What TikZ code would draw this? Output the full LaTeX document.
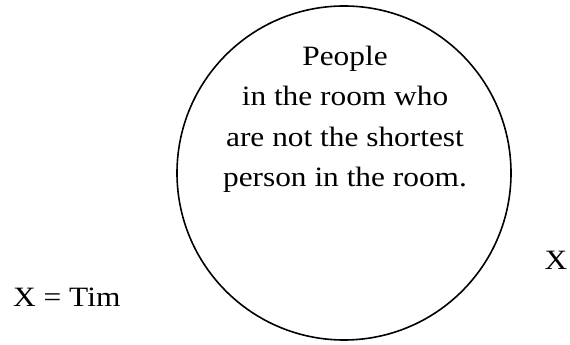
\documentclass[tikz,border=0pt]{standalone}
\usepackage{fontspec}
\setmainfont{Liberation Serif}
\usetikzlibrary{positioning}
\tikzset{
  setring/.style={draw=black,circle,line width=1.6pt,minimum size=334pt,inner sep=0pt},
  wide/.style={xscale=1.12,transform shape},
  settext/.style={wide,align=center,font=\fontsize{28}{40.5}\selectfont,inner sep=0pt},
  tag/.style={wide,font=\fontsize{28}{32}\selectfont,inner sep=0pt}
}
\begin{document}
\begin{tikzpicture}[x=1pt,y=1pt]
  \useasboundingbox (0,0) rectangle (570,345);
  \node[setring] (set) at (344,172) {};
  % last line's baseline
  \node[settext,anchor=base] (members) at (345,158) {People\\in the room who\\are not the shortest\\person in the room.};
  \node[tag,anchor=base west] (tim) at (13,38) {X = Tim};
  \node[tag,anchor=base] (x) at (556,75) {X};
\end{tikzpicture}
\end{document}
